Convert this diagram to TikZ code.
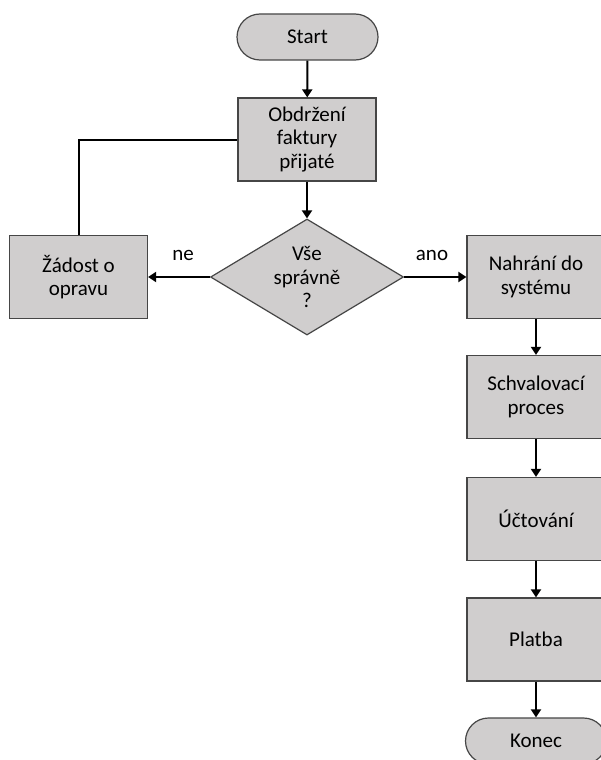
\documentclass[tikz,border=0pt]{standalone}
\usepackage{fontspec}
\setmainfont{Carlito}
\usetikzlibrary{arrows.meta,shapes.geometric}
\definecolor{boxfill}{RGB}{208,206,206}
\definecolor{boxline}{RGB}{70,70,70}
\tikzset{
  krok/.style={draw=boxline, fill=boxfill, line width=1.2pt, minimum width=138pt,
    minimum height=83pt, inner sep=0pt, align=center},
  okraj/.style={draw=boxline, fill=boxfill, line width=1.2pt, rounded corners=23pt,
    minimum width=141pt, minimum height=46pt, inner sep=0pt},
  otazka/.style={draw=boxline, fill=boxfill, line width=1.2pt, diamond, aspect=1.66,
    minimum width=193pt, minimum height=116pt, inner sep=0pt, align=center},
  sipka/.style={line width=2pt, -{Triangle[length=8pt,width=10pt]}},
  cara/.style={line width=2pt}
}
\begin{document}
\begin{tikzpicture}[x=1pt, y=-1pt, font=\fontsize{21}{23.5}\selectfont]
  \useasboundingbox (0,0) rectangle (601,760);
  \clip (0,0) rectangle (601,760);
  \fill[white] (0,0) rectangle (601,760);
  % hlavni vetev
  \node[okraj] (start) at (307.5,37) {Start};
  \node[krok] (prijem) at (307,139.5) {Obdržení\\faktury\\přijaté};
  \node[otazka] (kontrola) at (307,277) {Vše\\správně\\?};
  \node[krok] (oprava) at (78.5,277) {Žádost o\\opravu};
  \node[krok] (nahrani) at (536,277) {Nahrání do\\systému};
  \node[krok] (schval) at (536,397) {Schvalovací\\proces};
  \node[krok] (uctovani) at (536,519) {Účtování};
  \node[krok] (platba) at (536,639.5) {Platba};
  \node[okraj] (konec) at (536,741) {Konec};
  % popisky
  \node (ne) at (183,255) {ne};
  \node (ano) at (432,255) {ano};
  % spojeni
  \draw[sipka] (start) -- (prijem);
  \draw[sipka] (prijem) -- (kontrola);
  \draw[sipka] (kontrola.west) -- (oprava.east);
  \draw[sipka] (kontrola.east) -- (nahrani.west);
  \draw[cara] (oprava.north) |- (prijem.west);
  \draw[sipka] (nahrani) -- (schval);
  \draw[sipka] (schval) -- (uctovani);
  \draw[sipka] (uctovani) -- (platba);
  \draw[sipka] (platba) -- (konec);
\end{tikzpicture}
\end{document}
